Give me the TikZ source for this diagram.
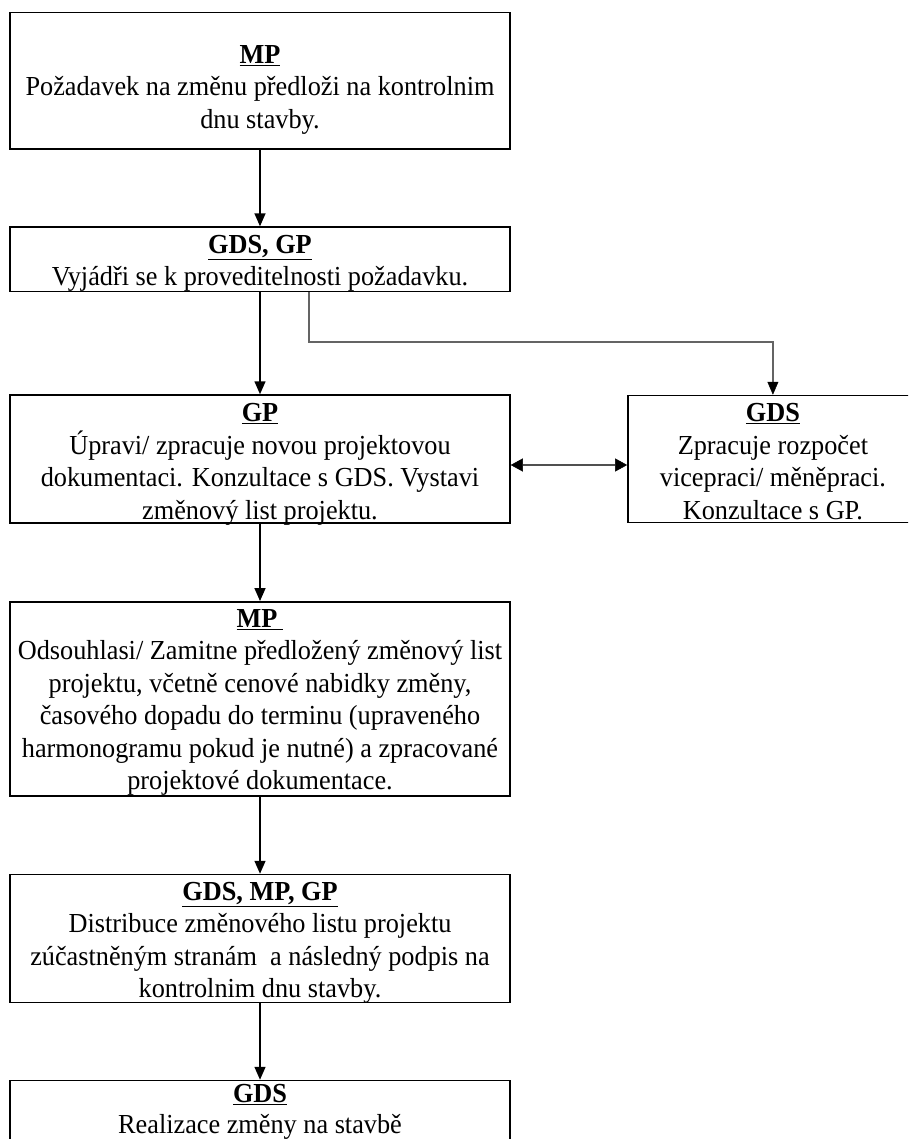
\documentclass[tikz,border=0pt]{standalone}
\usepackage{fontspec}
\setmainfont[FakeStretch=0.955]{Liberation Serif}
\usetikzlibrary{arrows.meta}
\begin{document}
\begin{tikzpicture}[x=1pt,y=-1pt,
  box/.style={draw=black, line width=1.5pt, inner sep=0pt, minimum width=500pt},
  txt/.style={anchor=north, inner sep=0pt, align=center,
    font=\fontsize{27.5}{32.4}\selectfont},
  flow/.style={draw=black, line width=1.5pt, -{Triangle[length=13pt,width=11pt]}},
  branch/.style={draw={rgb,255:red,100;green,100;blue,100}, line width=2.8pt,
    -{Triangle[length=13pt,width=11pt,color=black,line width=0.5pt]}},
  both/.style={draw={rgb,255:red,80;green,80;blue,80}, line width=2.8pt,
    {Triangle[length=12pt,width=13pt,color=black,line width=0.5pt]}-{Triangle[length=12pt,width=13pt,color=black,line width=0.5pt]}}
]
\newcommand{\ttl}[1]{\rule{0pt}{22pt}\underline{\textbf{#1}}}
\useasboundingbox (0,0) rectangle (908,1139);
\fill[white] (0,0) rectangle (908,1139);
\clip (0,0) rectangle (908,1139);

% boxes of the main column and the side branch
\node[box, minimum height=136.3pt] (b1) at (260,80.9) {};
\node[box, minimum height=64.5pt]  (b2) at (260,259.3) {};
\node[box, minimum height=128pt]   (b3) at (260,459) {};
\node[box, minimum width=290pt, minimum height=127pt] (b4) at (772.9,459) {};
\node[box, minimum height=194pt]   (b5) at (260,698.8) {};
\node[box, minimum height=128pt]   (b6) at (260,938.5) {};
\node[box, minimum height=120pt]   (b7) at (260,1140.5) {};

% texts
\node[txt] (t1) at (260,41.3) {\ttl{MP}\\Požadavek na změnu předloži na kontrolnim\\dnu stavby.};
\node[txt] (t2) at (260,231) {\ttl{GDS, GP}\\Vyjádři se k proveditelnosti požadavku.};
\node[txt] (t3) at (260,399.7) {\ttl{GP}\\Úpravi/ zpracuje novou projektovou\\dokumentaci. Konzultace s GDS. Vystavi\\změnový list projektu.};
\node[txt] (t4) at (772.9,399.7) {\ttl{GDS}\\Zpracuje rozpočet\\vicepraci/ měněpraci.\\Konzultace s GP.};
\node[txt] (t5) at (260,605.3) {\ttl{MP\hspace{6pt}}\\Odsouhlasi/ Zamitne předložený změnový list\\projektu, včetně cenové nabidky změny,\\časového dopadu do terminu (upraveného\\harmonogramu pokud je nutné) a zpracované\\projektové dokumentace.};
\node[txt] (t6) at (260,878) {\ttl{GDS, MP, GP}\\Distribuce změnového listu projektu\\zúčastněným stranám\ \ a následný podpis na\\kontrolnim dnu stavby.};
\node[txt, font=\fontsize{27.5}{31}\selectfont] (t7) at (260,1080) {\ttl{GDS}\\Realizace změny na stavbě};

% connectors
\coordinate (e1) at (309,342);
\draw[flow] (b1.south) -- (b2.north);
\draw[flow] (b2.south) -- (b3.north);
\draw[branch] (b2.south -| e1) -- (e1) -| (b4.north);
\draw[both] ([yshift=-6pt]b3.east) -- ([yshift=-6pt]b4.west);
\draw[flow] (b3.south) -- (b5.north);
\draw[flow] (b5.south) -- (b6.north);
\draw[flow] (b6.south) -- (b7.north);
\end{tikzpicture}
\end{document}
